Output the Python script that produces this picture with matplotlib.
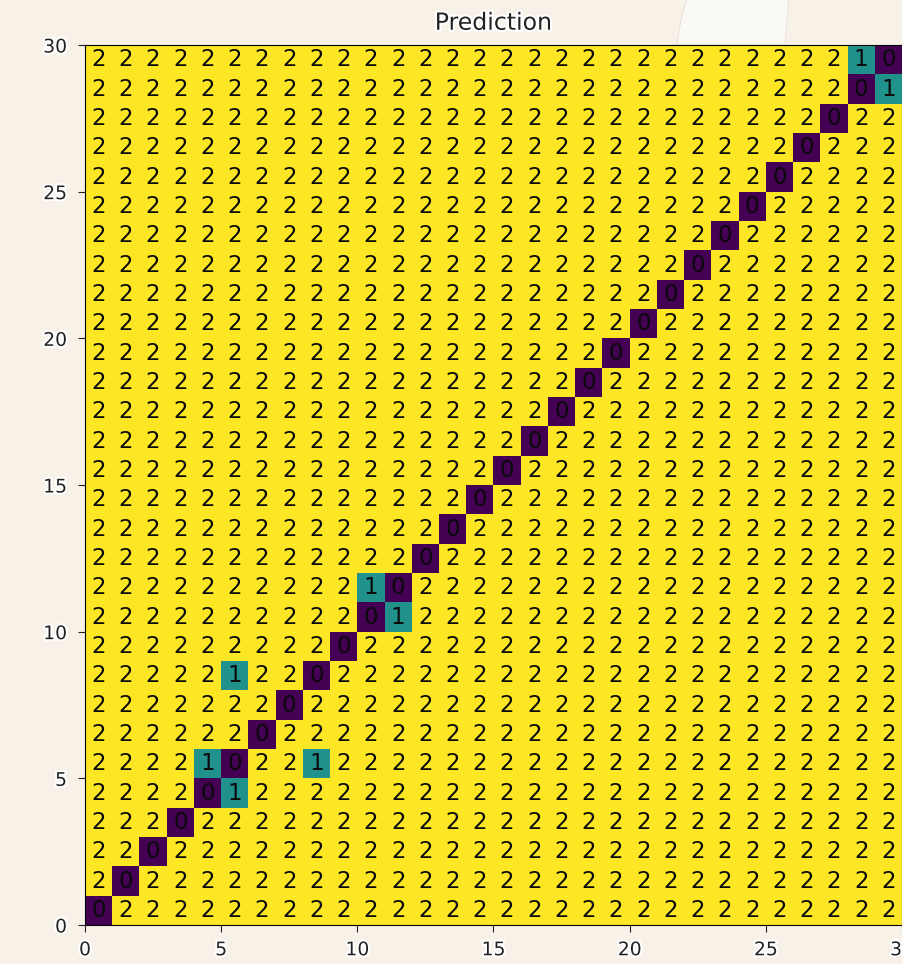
import matplotlib
matplotlib.use("Agg")
import matplotlib.pyplot as plt
import matplotlib.patheffects as pe
from matplotlib.patches import Polygon
import numpy as np

# predicted class per cell, rows listed from top (y=29) to bottom (y=0)
pred_rows = [
    "2222222222 2222222222 2222222210",
    "2222222222 2222222222 2222222201",
    "2222222222 2222222222 2222222022",
    "2222222222 2222222222 2222220222",
    "2222222222 2222222222 2222202222",
    "2222222222 2222222222 2222022222",
    "2222222222 2222222222 2220222222",
    "2222222222 2222222222 2202222222",
    "2222222222 2222222222 2022222222",
    "2222222222 2222222222 0222222222",
    "2222222222 2222222220 2222222222",
    "2222222222 2222222202 2222222222",
    "2222222222 2222222022 2222222222",
    "2222222222 2222220222 2222222222",
    "2222222222 2222202222 2222222222",
    "2222222222 2222022222 2222222222",
    "2222222222 2220222222 2222222222",
    "2222222222 2202222222 2222222222",
    "2222222222 1022222222 2222222222",
    "2222222222 0122222222 2222222222",
    "2222222220 2222222222 2222222222",
    "2222212202 2222222222 2222222222",
    "2222222022 2222222222 2222222222",
    "2222220222 2222222222 2222222222",
    "2222102212 2222222222 2222222222",
    "2222012222 2222222222 2222222222",
    "2220222222 2222222222 2222222222",
    "2202222222 2222222222 2222222222",
    "2022222222 2222222222 2222222222",
    "0222222222 2222222222 2222222222",
]
tick_vals = [0, 5, 10, 15, 20, 25, 30]
title = "Prediction"

grid = np.array([[int(c) for c in r.replace(" ", "")] for r in pred_rows[::-1]])
n_rows, n_cols = grid.shape

bg = "#f7f1e8"
fig = plt.figure(figsize=(9.03, 9.64), dpi=100, facecolor=bg)

# pale blob in the page background (top right)
W, H = 903, 964
blob = [(688, -5), (681, 20), (677, 44), (785, 44), (787, 20), (789, -5)]
fig.patches.append(Polygon([(x / W, 1 - y / H) for x, y in blob], closed=True,
                           transform=fig.transFigure, facecolor="#fbf9f5",
                           edgecolor="#e6e1d8", linewidth=0.6, zorder=0))

ax = fig.add_axes([85 / W, 1 - 925 / H, 817 / W, 880 / H])
ax.pcolormesh(grid, cmap="viridis", vmin=0, vmax=2)

for yi in range(n_rows):
    for xi in range(n_cols):
        ax.text(xi + 0.5, yi + 0.5, str(grid[yi, xi]), ha="center", va="center",
                fontsize=16.5, color="#0a0a0a")

halo = [pe.withStroke(linewidth=3, foreground="white")]
ax.set_xticks(tick_vals)
ax.set_yticks(tick_vals)
ax.set_xlim(0, n_cols)
ax.set_ylim(0, n_rows)
ax.tick_params(labelsize=13.5, labelcolor="#222222", color="#222222", length=5)
ax.tick_params(axis="x", pad=6)
ax.tick_params(axis="y", pad=8)
for lab in ax.get_xticklabels() + ax.get_yticklabels():
    lab.set_path_effects(halo)
t = ax.set_title(title, fontsize=17, color="#222222", pad=11)
t.set_path_effects(halo)

fig.savefig("out.png", dpi=100, facecolor=bg)
